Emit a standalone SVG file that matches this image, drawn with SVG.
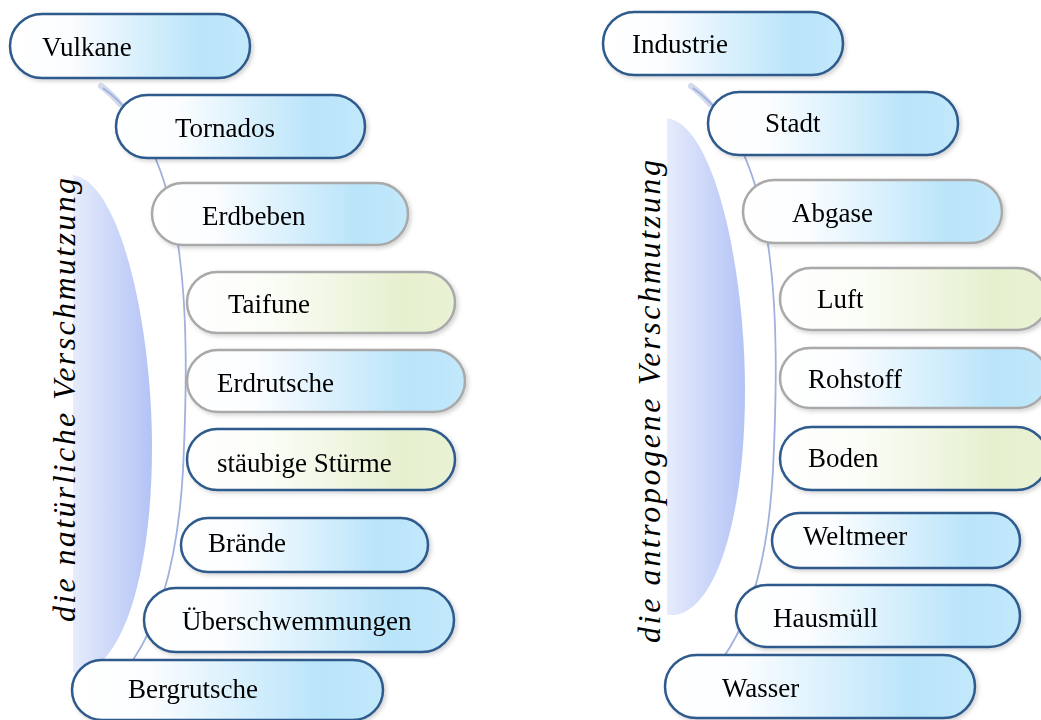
<svg xmlns="http://www.w3.org/2000/svg" width="1041" height="720" viewBox="0 0 1041 720">
<style>
.lbl{font-family:"Liberation Serif","Times New Roman",serif;font-size:27px;fill:#000}
.side{font-family:"Liberation Serif","Times New Roman",serif;font-size:32px;font-style:italic;fill:#000}
.dk{stroke:#2e5a8c;stroke-width:2.5}
.gr{stroke:#a9a9a9;stroke-width:2.5}
.b{fill:url(#gb)}
.g{fill:url(#gg)}
.arc{fill:none;stroke:#9fb1dd;stroke-width:1.8}
.arcTop{fill:none;stroke:#d3daee;stroke-width:6;stroke-linecap:round}
</style>
<defs>
<linearGradient id="gb" x1="0" y1="0" x2="1" y2="0">
<stop offset="0" stop-color="#ffffff"/>
<stop offset="0.25" stop-color="#fbfdff"/>
<stop offset="0.8" stop-color="#b9e4fa"/>
<stop offset="1" stop-color="#c2e8fb"/>
</linearGradient>
<linearGradient id="gg" x1="0" y1="0" x2="1" y2="0">
<stop offset="0" stop-color="#ffffff"/>
<stop offset="0.3" stop-color="#fbfdf7"/>
<stop offset="0.8" stop-color="#e6f0cf"/>
<stop offset="1" stop-color="#e9f2d4"/>
</linearGradient>
<linearGradient id="gl" x1="0" y1="0" x2="1" y2="0">
<stop offset="0" stop-color="#e6ecfc"/>
<stop offset="1" stop-color="#b3c3f5"/>
</linearGradient>
<filter id="sh" x="-10%" y="-20%" width="125%" height="150%">
<feDropShadow dx="2" dy="2" stdDeviation="2" flood-color="#000" flood-opacity="0.18"/>
</filter>
</defs>
<rect width="1041" height="720" fill="#ffffff"/>

<g id="bar-left">
<path d="M73,175 C121,182 152,327 152,447 C152,577 121,667 81,672 L73,672 Z" fill="url(#gl)"/>
<text class="side" transform="translate(75,622) rotate(-90)" textLength="444" lengthAdjust="spacing">die natürliche Verschmutzung</text>
</g>
<g id="bar-right">
<path d="M667,118 C715,125 745,270 745,390 C745,520 715,610 675,615 L667,615 Z" fill="url(#gl)"/>
<text class="side" transform="translate(660,643) rotate(-90)" textLength="483" lengthAdjust="spacing">die antropogene Verschmutzung</text>
</g>

<g id="connectors">
<path class="arcTop" d="M101,86 C108,91 114,97 120,104"/>
<path class="arc" d="M103,88 C190,150 190,320 183,470 C178,560 160,620 133,660"/>
<path class="arcTop" d="M691,86 C698,91 704,97 710,104"/>
<path class="arc" d="M693,88 C780,150 780,320 773,470 C768,560 750,620 723,658"/>
</g>

<g id="n-vulkane" filter="url(#sh)"><rect class="b dk" x="10" y="14" width="240" height="64" rx="32"/><text class="lbl" x="42" y="56">Vulkane</text></g>
<g id="n-tornados" filter="url(#sh)"><rect class="b dk" x="116" y="95" width="249" height="63" rx="31.5"/><text class="lbl" x="175" y="137">Tornados</text></g>
<g id="n-erdbeben" filter="url(#sh)"><rect class="b gr" x="152" y="183" width="256" height="62" rx="31"/><text class="lbl" x="202" y="225">Erdbeben</text></g>
<g id="n-taifune" filter="url(#sh)"><rect class="g gr" x="187" y="272" width="268" height="61" rx="30.5"/><text class="lbl" x="228" y="313">Taifune</text></g>
<g id="n-erdrutsche" filter="url(#sh)"><rect class="b gr" x="187" y="350" width="278" height="62" rx="31"/><text class="lbl" x="217" y="392">Erdrutsche</text></g>
<g id="n-stuerme" filter="url(#sh)"><rect class="g dk" x="187" y="429" width="268" height="61" rx="30.5"/><text class="lbl" x="217" y="472">stäubige Stürme</text></g>
<g id="n-braende" filter="url(#sh)"><rect class="b dk" x="181" y="518" width="247" height="54" rx="27"/><text class="lbl" x="208" y="552">Brände</text></g>
<g id="n-ueberschwemmungen" filter="url(#sh)"><rect class="b dk" x="144" y="588" width="310" height="64" rx="32"/><text class="lbl" x="182" y="630">Überschwemmungen</text></g>
<g id="n-bergrutsche" filter="url(#sh)"><rect class="b dk" x="72" y="660" width="311" height="60" rx="30"/><text class="lbl" x="128" y="698">Bergrutsche</text></g>

<g id="n-industrie" filter="url(#sh)"><rect class="b dk" x="603" y="12" width="240" height="63" rx="31.5"/><text class="lbl" x="632" y="53">Industrie</text></g>
<g id="n-stadt" filter="url(#sh)"><rect class="b dk" x="708" y="92" width="250" height="63" rx="31.5"/><text class="lbl" x="765" y="132">Stadt</text></g>
<g id="n-abgase" filter="url(#sh)"><rect class="b gr" x="743" y="180" width="259" height="63" rx="31.5"/><text class="lbl" x="792" y="222">Abgase</text></g>
<g id="n-luft" filter="url(#sh)"><rect class="g gr" x="780" y="268" width="268" height="62" rx="31"/><text class="lbl" x="817" y="308">Luft</text></g>
<g id="n-rohstoff" filter="url(#sh)"><rect class="b gr" x="780" y="348" width="268" height="60" rx="30"/><text class="lbl" x="808" y="388">Rohstoff</text></g>
<g id="n-boden" filter="url(#sh)"><rect class="g dk" x="780" y="427" width="268" height="63" rx="31.5"/><text class="lbl" x="808" y="467">Boden</text></g>
<g id="n-weltmeer" filter="url(#sh)"><rect class="b dk" x="772" y="513" width="248" height="55" rx="27.5"/><text class="lbl" x="803" y="545">Weltmeer</text></g>
<g id="n-hausmuell" filter="url(#sh)"><rect class="b dk" x="736" y="585" width="284" height="62" rx="31"/><text class="lbl" x="773" y="627">Hausmüll</text></g>
<g id="n-wasser" filter="url(#sh)"><rect class="b dk" x="665" y="655" width="310" height="63" rx="31.5"/><text class="lbl" x="722" y="697">Wasser</text></g>
</svg>
